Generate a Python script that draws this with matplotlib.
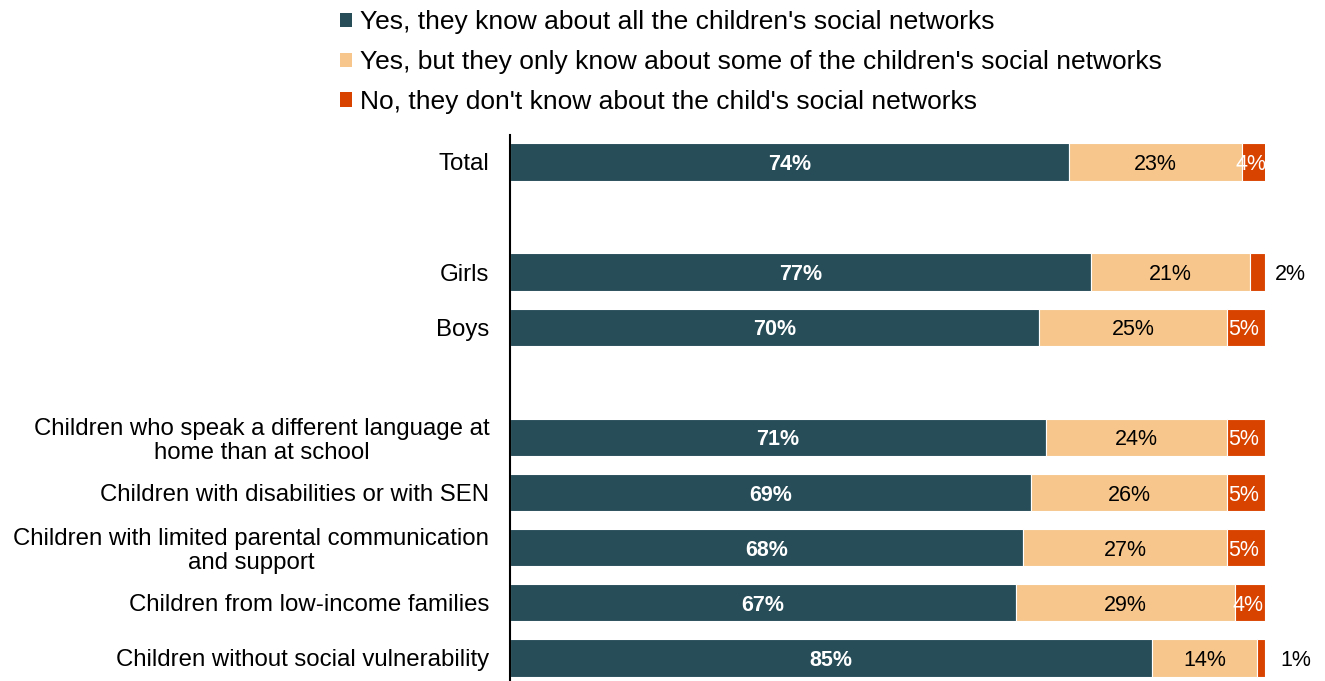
import numpy as np
import matplotlib.pyplot as plt
from matplotlib.patches import Patch

plt.rcParams['font.family'] = ['Liberation Sans', 'DejaVu Sans']

# groups, top to bottom; empty strings are spacer rows
categories = ['Total', '',
              'Girls', 'Boys', '',
              'Children who speak a different language at\nhome than at school',
              'Children with disabilities or with SEN',
              'Children with limited parental communication\nand support',
              'Children from low-income families',
              'Children without social vulnerability']
know_all = [74, None, 77, 70, None, 71, 69, 68, 67, 85]
know_some = [23, None, 21, 25, None, 24, 26, 27, 29, 14]
know_none = [4, None, 2, 5, None, 5, 5, 5, 4, 1]

series_names = ["Yes, they know about all the children's social networks",
                "Yes, but they only know about some of the children's social networks",
                "No, they don't know about the child's social networks"]
colors = ['#264D58', '#F7C68C', '#D84300']

fig = plt.figure(figsize=(13.25, 6.81), dpi=100)
ax = fig.add_axes([510 / 1325, 0, 755 / 1325, 1 - 135 / 681])

rows = [i for i, v in enumerate(know_all) if v is not None]
a = np.array([know_all[i] for i in rows], dtype=float)
s = np.array([know_some[i] for i in rows], dtype=float)
n = np.array([know_none[i] for i in rows], dtype=float)
y = np.array(rows)

h = 0.68
ax.barh(y, a, height=h, color=colors[0], edgecolor='white', linewidth=0.8)
ax.barh(y, s, left=a, height=h, color=colors[1], edgecolor='white', linewidth=0.8)
ax.barh(y, n, left=a + s, height=h, color=colors[2], edgecolor='white', linewidth=0.8)

fs = 15.5
for yi, va, vs, vn in zip(y, a, s, n):
    ax.text(va / 2, yi, f'{va:.0f}%', ha='center', va='center_baseline',
            color='white', fontsize=fs, fontweight='bold')
    ax.text(va + vs / 2, yi, f'{vs:.0f}%', ha='center', va='center_baseline',
            color='black', fontsize=fs)
    if vn >= 3:
        x0 = va + vs
        ax.text((x0 + min(x0 + vn, 100)) / 2 - 0.3, yi, f'{vn:.0f}%', ha='center',
                va='center_baseline', color='white', fontsize=fs)
    else:
        # too narrow for a label inside, put it past the bar end
        ax.annotate(f'{vn:.0f}%', (100, yi), xytext=(7 + (2 - vn) * 4, 0),
                    textcoords='offset points', ha='left', va='center_baseline',
                    color='black', fontsize=fs, annotation_clip=False)

ax.set_xlim(0, 100)
ax.set_ylim(9.42, -0.49)
ax.set_yticks(range(len(categories)))
ax.set_yticklabels(categories, fontsize=17.3, ha='right',
                   multialignment='center', linespacing=1.1)
ax.tick_params(axis='y', length=0, pad=15)
ax.set_xticks([])
for sp in ['top', 'right', 'bottom']:
    ax.spines[sp].set_visible(False)
ax.spines['left'].set_linewidth(1.5)

handles = [Patch(facecolor=c) for c in colors]
fig.legend(handles, series_names, loc='upper left',
           bbox_to_anchor=(327 / 1325, 1.0 + 3 / 681), frameon=False, fontsize=19,
           handlelength=0.45, handleheight=0.45, handletextpad=0.3,
           labelspacing=0.6, borderaxespad=0.1)

plt.savefig('out.png', dpi=100)
